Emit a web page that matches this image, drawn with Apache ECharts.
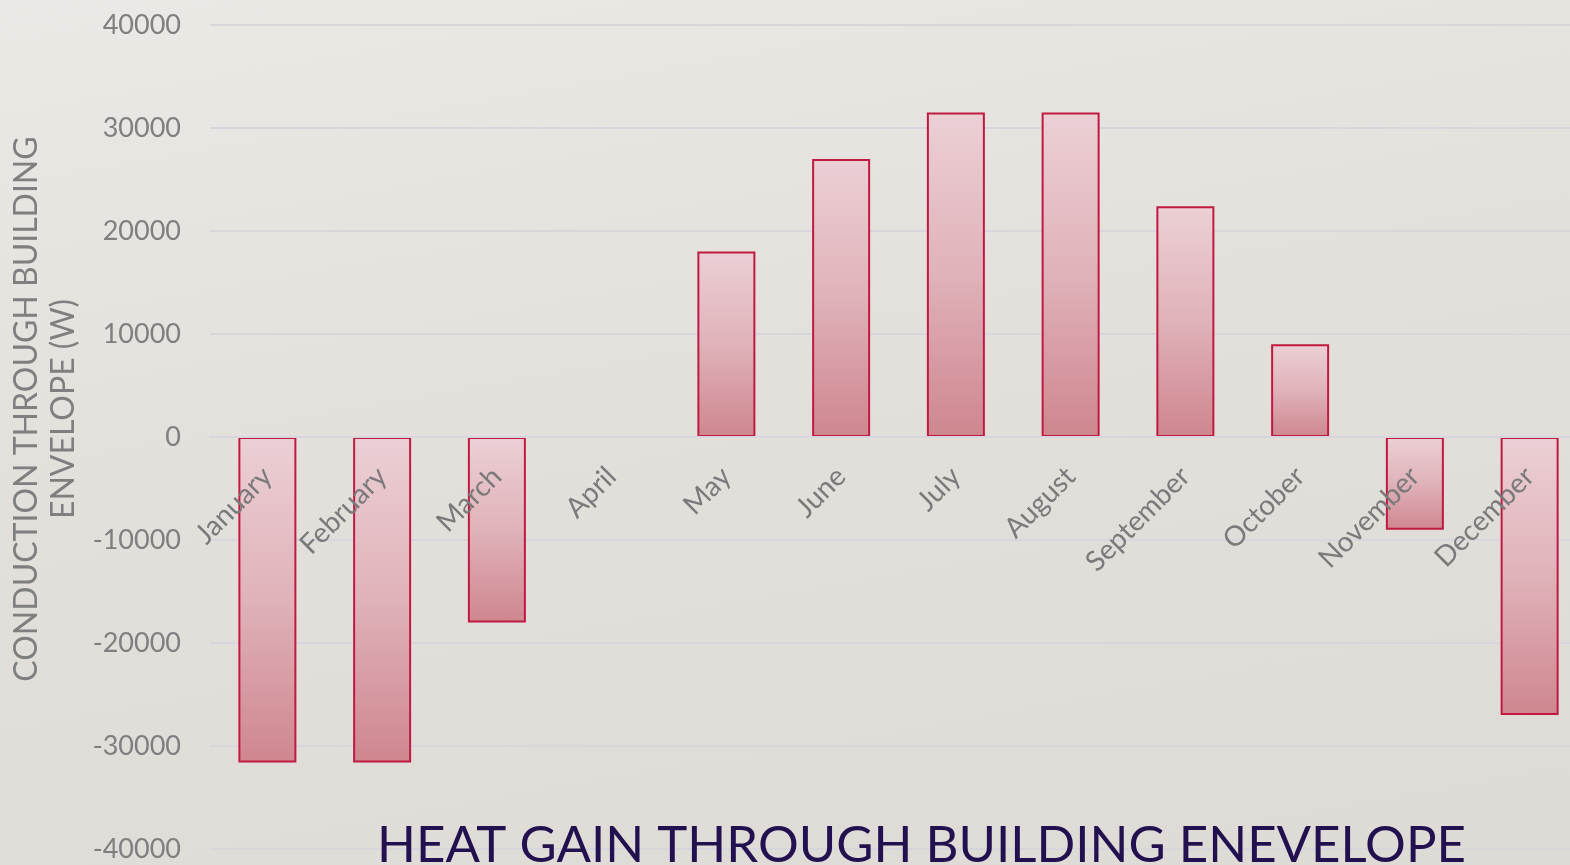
<!DOCTYPE html>
<html>
<head>
<meta charset="utf-8">
<script src="https://cdn.jsdelivr.net/npm/echarts@6/dist/echarts.min.js"></script>
<style>
  html, body { margin: 0; padding: 0; width: 1570px; height: 865px; overflow: hidden; }
  body { background: linear-gradient(170deg, #ebe9e5 0%, #e3e0dc 45%, #dedbd6 100%); }
  #chart { width: 1570px; height: 865px; }
</style>
</head>
<body>
<div id="chart"></div>
<script>
// Monthly conduction heat flow through the building envelope (W)
const months = ['January', 'February', 'March', 'April', 'May', 'June',
                'July', 'August', 'September', 'October', 'November', 'December'];
const conduction = [-31600, -31600, -18000, 0, 18000, 27000,
                    31500, 31500, 22400, 9000, -9000, -27000];
const yTicks = { min: -40000, max: 40000, step: 10000 };

const chart = echarts.init(document.getElementById('chart'), null, { renderer: 'canvas' });

const labelFont = 'Lato, "Open Sans", sans-serif';

// a zero month has no visible box, so drop its outline
const barData = conduction.map(v => v === 0
  ? { value: v, itemStyle: { borderWidth: 0 } }
  : v);

// plot box: 40000 at y=25, -40000 at y=849; the month axis sits on the zero line
const plotTop = 25, plotBottom = 16, plotHeight = 865 - plotTop - plotBottom;
const zeroShift = -plotHeight * (0 - yTicks.min) / (yTicks.max - yTicks.min);

chart.setOption({
  backgroundColor: 'transparent',
  animation: false,
  title: {
    text: 'HEAT GAIN THROUGH BUILDING ENEVELOPE',
    left: 372,
    top: 815,
    textStyle: {
      color: '#23104f',
      fontFamily: labelFont,
      fontSize: 51,
      fontWeight: 'normal'
    }
  },
  grid: {
    left: 210, right: -17, top: plotTop, bottom: plotBottom,
    containLabel: false,
    outerBoundsMode: 'none'
  },
  xAxis: {
    type: 'category',
    data: months,
    offset: zeroShift,
    z: 5,
    axisLine: { onZero: false, lineStyle: { color: '#d6d6dc', width: 2 } },
    axisTick: { show: false },
    axisLabel: {
      rotate: 45,
      margin: 35,
      color: '#7a7a7a',
      fontFamily: labelFont,
      fontSize: 28
    }
  },
  yAxis: {
    type: 'value',
    min: yTicks.min,
    max: yTicks.max,
    interval: yTicks.step,
    name: 'CONDUCTION THROUGH BUILDING\nENVELOPE (W)',
    nameLocation: 'middle',
    nameGap: 122,
    nameRotate: 90,
    nameTextStyle: {
      color: '#7f7f7f',
      fontFamily: labelFont,
      fontSize: 32,
      lineHeight: 37,
      // lifts the axis title a little above the zero line
      padding: [0, 0, 0, 56]
    },
    axisLine: { show: false },
    axisTick: { show: false },
    axisLabel: {
      margin: 29,
      color: '#7f7f7f',
      fontFamily: labelFont,
      fontSize: 27,
      formatter: v => String(v)
    },
    splitLine: { lineStyle: { color: '#d6d6dc', width: 2 } }
  },
  series: [{
    type: 'bar',
    data: barData,
    barWidth: 58,
    z: 2,
    itemStyle: {
      color: new echarts.graphic.LinearGradient(0, 0, 0, 1, [
        { offset: 0, color: '#ebd0d5' },
        { offset: 0.5, color: '#e0b2b9' },
        { offset: 1, color: '#cf868f' }
      ]),
      borderColor: '#c01a42',
      borderWidth: 2
    }
  }]
});
</script>
</body>
</html>
